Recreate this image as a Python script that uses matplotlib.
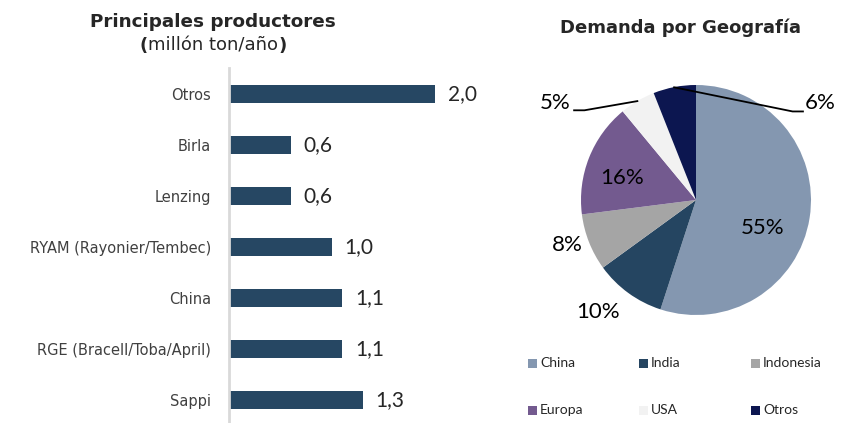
import matplotlib.pyplot as plt
from matplotlib.patches import Rectangle

# Data
productores = ['Otros', 'Birla', 'Lenzing', 'RYAM (Rayonier/Tembec)', 'China',
               'RGE (Bracell/Toba/April)', 'Sappi']
capacidad = [2.0, 0.6, 0.6, 1.0, 1.1, 1.1, 1.3]

regiones = ['China', 'India', 'Indonesia', 'Europa', 'USA', 'Otros']
demanda = [55, 10, 8, 16, 5, 6]
colores = ['#8497B0', '#254561', '#A5A5A5', '#735A8F', '#F2F2F2', '#0C1650']

W, H = 841, 423
fig = plt.figure(figsize=(W / 100, H / 100), dpi=100)

# ---------------- Bar chart ----------------
ax = fig.add_axes([229 / W, 0, 273 / W, 354.5 / H])
ypos = list(range(len(productores)))
bars = ax.barh(ypos, capacidad, height=0.34, color='#264763')
ax.set_ylim(6.45, -0.5)
ax.set_xlim(0, 2.65)
ax.set_yticks(ypos)
ax.set_yticklabels(productores, fontsize=10.5, color='#404040', family='DejaVu Sans')
ax.tick_params(axis='y', length=0, pad=13)
ax.set_xticks([])
for s in ['top', 'right', 'bottom']:
    ax.spines[s].set_visible(False)
ax.spines['left'].set_color('#D9D9D9')
ax.spines['left'].set_linewidth(2)
ax.bar_label(bars, labels=[f'{v:.1f}'.replace('.', ',') for v in capacidad],
             padding=9, fontsize=15, color='#262626', family='Lato')

# Title left
fig.text(213 / W, 1 - 22 / H, 'Principales productores', ha='center', va='center',
         fontsize=13.2, fontweight='bold', color='#262626')
mid = fig.text(213 / W, 1 - 46 / H, 'millón ton/año', ha='center', va='center',
               fontsize=13, color='#262626')
plt.annotate('(', xy=(0, 0), xycoords=mid, ha='right', va='bottom',
             fontsize=13, fontweight='bold', color='#262626')
plt.annotate(')', xy=(1, 0), xycoords=mid, ha='left', va='bottom',
             fontsize=13, fontweight='bold', color='#262626')

# ---------------- Pie chart ----------------
cx, cy, r = 696, 200, 115
pax = fig.add_axes([(cx - r) / W, (H - cy - r) / H, 2 * r / W, 2 * r / H])
pax.pie(demanda, colors=colores, startangle=90, counterclock=False, radius=1,
        wedgeprops=dict(linewidth=0))
pax.set_xlim(-1, 1)
pax.set_ylim(-1, 1)
pax.set_aspect('equal')
pax.axis('off')

lbl = dict(fontsize=16, family='Lato', color='#000000', ha='center', va='center')
pax.text(0.58, -0.24, f'{demanda[0]}%', **lbl)
pax.text(-0.85, -0.97, f'{demanda[1]}%', **lbl)
pax.text(-1.12, -0.39, f'{demanda[2]}%', **lbl)
pax.text(-0.64, 0.19, f'{demanda[3]}%', **lbl)

# leader lines for small slices
pax.plot([-0.51, -0.97, -1.06], [0.86, 0.78, 0.78], color='black', lw=1.3, clip_on=False)
pax.text(-1.09, 0.84, f'{demanda[4]}%', fontsize=16, family='Lato', ha='right', va='center')
pax.plot([-0.19, 0.84, 0.93], [0.98, 0.77, 0.77], color='black', lw=1.3, clip_on=False)
pax.text(0.95, 0.84, f'{demanda[5]}%', fontsize=16, family='Lato', ha='left', va='center')

fig.text(680 / W, 1 - 28 / H, 'Demanda por Geografía', ha='center', va='center',
         fontsize=13, fontweight='bold', color='#262626')

# Legend
col_x = [528, 639, 751]
row_y = [363, 410]
for i, (name, c) in enumerate(zip(regiones, colores)):
    x = col_x[i % 3]
    y = row_y[i // 3]
    fig.patches.append(Rectangle((x / W, (H - y - 4.5) / H), 9 / W, 9 / H,
                                 transform=fig.transFigure, facecolor=c,
                                 edgecolor='none'))
    fig.text((x + 12) / W, (H - y) / H, name, ha='left', va='center',
             fontsize=10, family='Lato', color='#262626')

fig.savefig('out.png', dpi=100)
